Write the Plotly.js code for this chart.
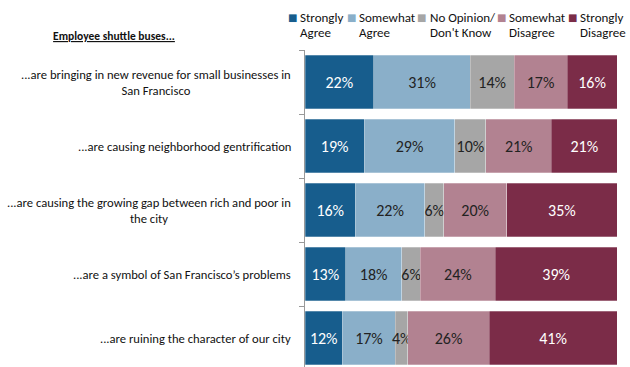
<!DOCTYPE html>
<html>
<head>
<meta charset="utf-8">
<script src="https://cdn.plot.ly/plotly-3.0.1.min.js"></script>
<style>html,body{margin:0;padding:0;background:#fff}</style>
</head>
<body>
<div id="chart" style="width:630px;height:367px"></div>
<script>
// Data
const categories = [
  "...are bringing in new revenue for small businesses in<br>San Francisco",
  "...are causing neighborhood gentrification",
  "...are causing the growing gap between rich and poor in<br>the city",
  "...are a symbol of San Francisco\u2019s problems",
  "...are ruining the character of our city"
];
const seriesNames = ["Strongly<br>Agree", "Somewhat<br>Agree", "No Opinion/<br>Don't Know", "Somewhat<br>Disagree", "Strongly<br>Disagree"];
const stronglyAgree    = [22, 19, 16, 13, 12];
const somewhatAgree    = [31, 29, 22, 18, 17];
const noOpinion        = [14, 10, 6, 6, 4];
const somewhatDisagree = [17, 21, 20, 24, 26];
const stronglyDisagree = [16, 21, 35, 39, 41];
const seriesValues = [stronglyAgree, somewhatAgree, noOpinion, somewhatDisagree, stronglyDisagree];

// Styles
const colors = ["#175D8D", "#8AAFC9", "#A6A6A6", "#B28291", "#7B2C48"];
const textColors = ["#ffffff", "#222222", "#222222", "#222222", "#ffffff"];
const FONT = "Carlito, Lato, 'Open Sans', sans-serif";

const traces = seriesValues.map((vals, i) => ({
  type: "bar",
  orientation: "h",
  name: seriesNames[i],
  y: categories,
  x: vals,
  text: vals.map(v => v + "%"),
  textposition: "inside",
  insidetextanchor: "middle",
  textangle: 0,
  textfont: {family: FONT, size: 16, color: textColors[i]},
  marker: {color: colors[i], line: {color: "rgba(255,255,255,0.45)", width: 0.6}},
  hoverinfo: "skip",
  showlegend: false
}));

// Layout geometry (pixels)
const W = 630, H = 367, L = 305, R = 13, T = 50, B = 0;
const pw = W - L - R, ph = H - T - B;
const px2x = px => (px - L) / pw;
const py2y = py => (H - B - py) / ph;

const annotations = [];
// category labels
categories.forEach(c => annotations.push({
  xref: "paper", yref: "y", x: 0, y: c, xshift: -12,
  xanchor: "right", yanchor: "middle", align: "center",
  text: c, showarrow: false,
  font: {family: FONT, size: 12.6, color: "#111111"}
}));
// legend
const legSquareX = [292, 351, 421, 501, 572];
const legTextX = [298, 357, 428, 507, 578];
const legLineY = [18, 33];
seriesNames.forEach((n, i) => {
  annotations.push({
    xref: "paper", yref: "paper", x: px2x(legSquareX[i]), y: py2y(legLineY[0]),
    xanchor: "center", yanchor: "middle", text: "\u25A0", showarrow: false,
    font: {family: "DejaVu Sans", size: 10, color: colors[i]}
  });
  n.split("<br>").forEach((line, k) => annotations.push({
    xref: "paper", yref: "paper", x: px2x(legTextX[i]), y: py2y(legLineY[k]),
    xanchor: "left", yanchor: "middle", align: "left", text: line, showarrow: false,
    font: {family: FONT, size: 13, color: "#111111"}
  }));
});

const layout = {
  width: W, height: H,
  margin: {l: L, r: R, t: T, b: B, pad: 0},
  barmode: "stack",
  barnorm: "percent",
  bargap: 0.16,
  paper_bgcolor: "#fff", plot_bgcolor: "#fff",
  uniformtext: {mode: "show", minsize: 16},
  title: {
    text: "<b><u>Employee shuttle buses...</u></b>",
    x: 114 / W, xanchor: "center", xref: "container",
    y: 1 - 36 / H, yanchor: "middle", yref: "container",
    font: {family: FONT, size: 11.5, color: "#111111"}
  },
  xaxis: {range: [0, 100], visible: false, fixedrange: true},
  yaxis: {
    type: "category",
    range: [(ph / 64) - 0.5, -0.5],
    showticklabels: false,
    ticks: "outside", ticklen: 5, tickcolor: "#999", tickwidth: 1,
    tickson: "boundaries",
    showline: true, linecolor: "#999", linewidth: 1,
    showgrid: false, zeroline: false, fixedrange: true
  },
  annotations: annotations,
  showlegend: false
};

Plotly.newPlot("chart", traces, layout, {displayModeBar: false, staticPlot: true});
</script>
</body>
</html>
